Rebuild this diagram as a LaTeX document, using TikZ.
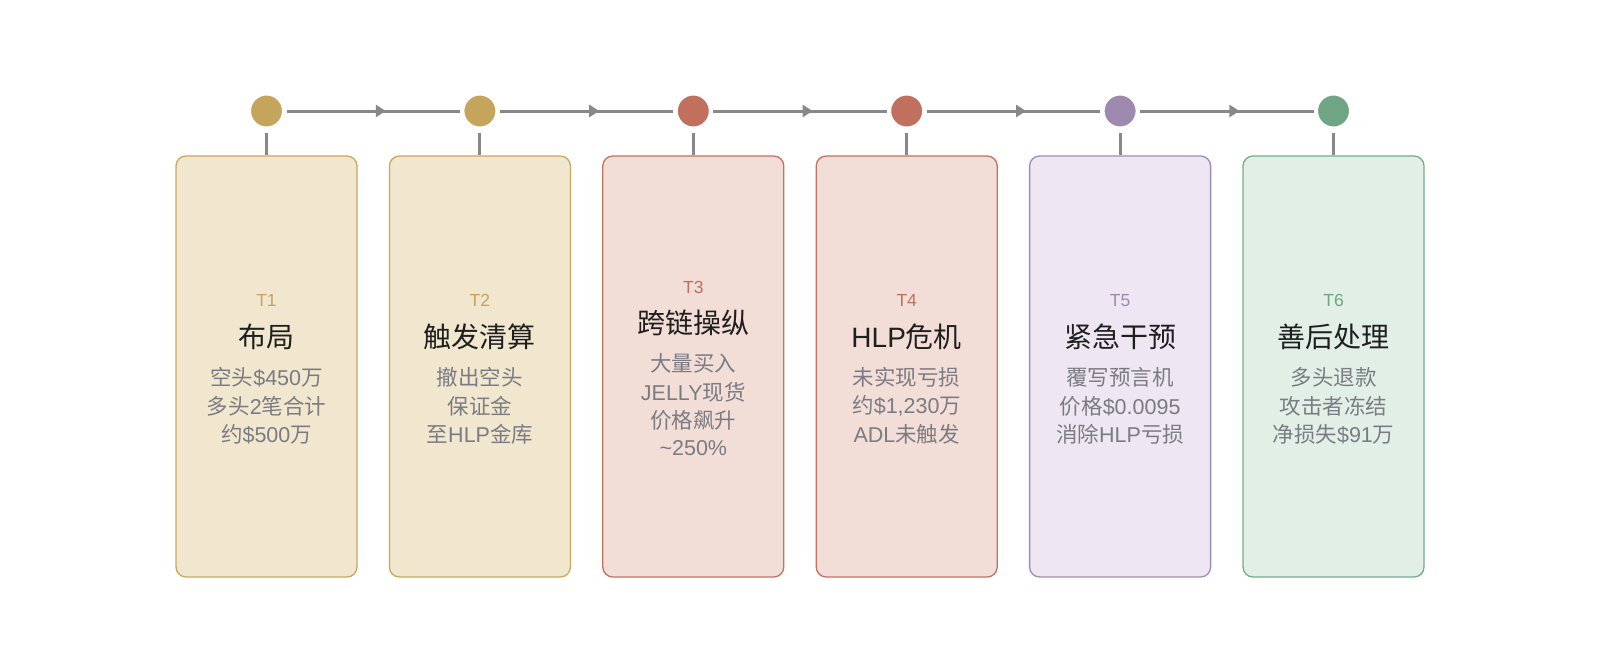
\documentclass[tikz,border=0pt]{standalone}
\usepackage{fontspec}
\setmainfont{Liberation Sans}
\newfontfamily\cjk{Noto Sans CJK SC}
\newcommand\zh[1]{{\cjk #1}}
\usetikzlibrary{arrows.meta,decorations.markings}
\definecolor{goldC}{HTML}{C5A55C}
\definecolor{goldF}{HTML}{F1E6CE}
\definecolor{goldB}{HTML}{C9A85E}
\definecolor{redC}{HTML}{C0705D}
\definecolor{redF}{HTML}{F2DDD7}
\definecolor{redB}{HTML}{C27262}
\definecolor{purC}{HTML}{9E89AF}
\definecolor{purF}{HTML}{EEE6F2}
\definecolor{purB}{HTML}{A08BB2}
\definecolor{grnC}{HTML}{6FA584}
\definecolor{grnF}{HTML}{E1EFE6}
\definecolor{grnB}{HTML}{76AA8A}
\definecolor{lineG}{HTML}{88888B}
\definecolor{bodyG}{HTML}{7B7C83}
\definecolor{titleK}{HTML}{1F1F1F}
\tikzset{
  dot/.style={circle,minimum size=32pt,inner sep=0pt,draw=white,line width=1pt},
  stagebox/.style={rectangle,rounded corners=10pt,minimum width=181pt,minimum height=421pt,line width=1.3pt,inner sep=0pt},
  conn/.style={draw=lineG,line width=3pt},
  flow/.style={conn,shorten <=3.5pt,shorten >=3.5pt,postaction={decorate},
    decoration={markings,mark=at position 0.57 with {\arrow{Triangle[length=10pt,width=12pt]}}}},
  lbl/.style={font=\fontsize{17.5}{20}\selectfont,inner sep=0pt},
  ttl/.style={font=\fontsize{28}{32}\selectfont,text=titleK,inner sep=0pt},
  bdy/.style={font=\fontsize{21.5}{24}\selectfont,text=bodyG,inner sep=0pt}
}
\begin{document}
\begin{tikzpicture}[x=1pt,y=-1pt]
\useasboundingbox (0,0) rectangle (1600,667);
% circles and boxes
\foreach \i/\cx/\cc/\ff/\bb in {1/266.5/goldC/goldF/goldB,2/479.9/goldC/goldF/goldB,3/693.3/redC/redF/redB,4/906.7/redC/redF/redB,5/1120.1/purC/purF/purB,6/1333.5/grnC/grnF/grnB}{
  \node[dot,fill=\cc] (c\i) at (\cx,111) {};
  \node[stagebox,fill=\ff,draw=\bb] (b\i) at (\cx,366.5) {};
  \draw[conn,shorten <=5pt] (c\i.south) -- (b\i.north);
}
\foreach \i/\j in {1/2,2/3,3/4,4/5,5/6}{
  \draw[flow] (c\i.east) -- (c\j.west);
}
% texts box 1
\node[lbl,text=goldC] (l1) at (266.5,300.5) {T1};
\node[ttl] (t1) at (266.5,336.7) {\zh{布局}};
\node[bdy] (a1) at (266.5,377.7) {\zh{空头}\$450\zh{万}};
\node[bdy] (m1) at (266.5,406.0) {\zh{多头}2\zh{笔合计}};
\node[bdy] (z1) at (266.5,434.3) {\zh{约}\$500\zh{万}};
% box 2
\node[lbl,text=goldC] (l2) at (479.9,300.5) {T2};
\node[ttl] (t2) at (479.9,336.7) {\zh{触发清算}};
\node[bdy] (a2) at (479.9,377.7) {\zh{撤出空头}};
\node[bdy] (m2) at (479.9,406.0) {\zh{保证金}};
\node[bdy] (z2) at (479.9,434.3) {\zh{至}HLP\zh{金库}};
% box 3
\node[lbl,text=redC] (l3) at (693.3,287.3) {T3};
\node[ttl] (t3) at (693.3,322.5) {\zh{跨链操纵}};
\node[bdy] (a3) at (693.3,363.6) {\zh{大量买入}};
\node[bdy] (m3) at (693.3,391.9) {JELLY\zh{现货}};
\node[bdy] (n3) at (693.3,420.2) {\zh{价格飙升}};
\node[bdy] (z3) at (693.3,448.5) {\textasciitilde 250\%};
% box 4
\node[lbl,text=redC] (l4) at (906.7,300.5) {T4};
\node[ttl] (t4) at (906.7,336.7) {HLP\zh{危机}};
\node[bdy] (a4) at (906.7,377.7) {\zh{未实现亏损}};
\node[bdy] (m4) at (906.7,406.0) {\zh{约}\$1,230\zh{万}};
\node[bdy] (z4) at (906.7,434.3) {ADL\zh{未触发}};
% box 5
\node[lbl,text=purC] (l5) at (1120.1,300.5) {T5};
\node[ttl] (t5) at (1120.1,336.7) {\zh{紧急干预}};
\node[bdy] (a5) at (1120.1,377.7) {\zh{覆写预言机}};
\node[bdy] (m5) at (1120.1,406.0) {\zh{价格}\$0.0095};
\node[bdy] (z5) at (1120.1,434.3) {\zh{消除}HLP\zh{亏损}};
% box 6
\node[lbl,text=grnC] (l6) at (1333.5,300.5) {T6};
\node[ttl] (t6) at (1333.5,336.7) {\zh{善后处理}};
\node[bdy] (a6) at (1333.5,377.7) {\zh{多头退款}};
\node[bdy] (m6) at (1333.5,406.0) {\zh{攻击者冻结}};
\node[bdy] (z6) at (1333.5,434.3) {\zh{净损失}\$91\zh{万}};
\end{tikzpicture}
\end{document}
